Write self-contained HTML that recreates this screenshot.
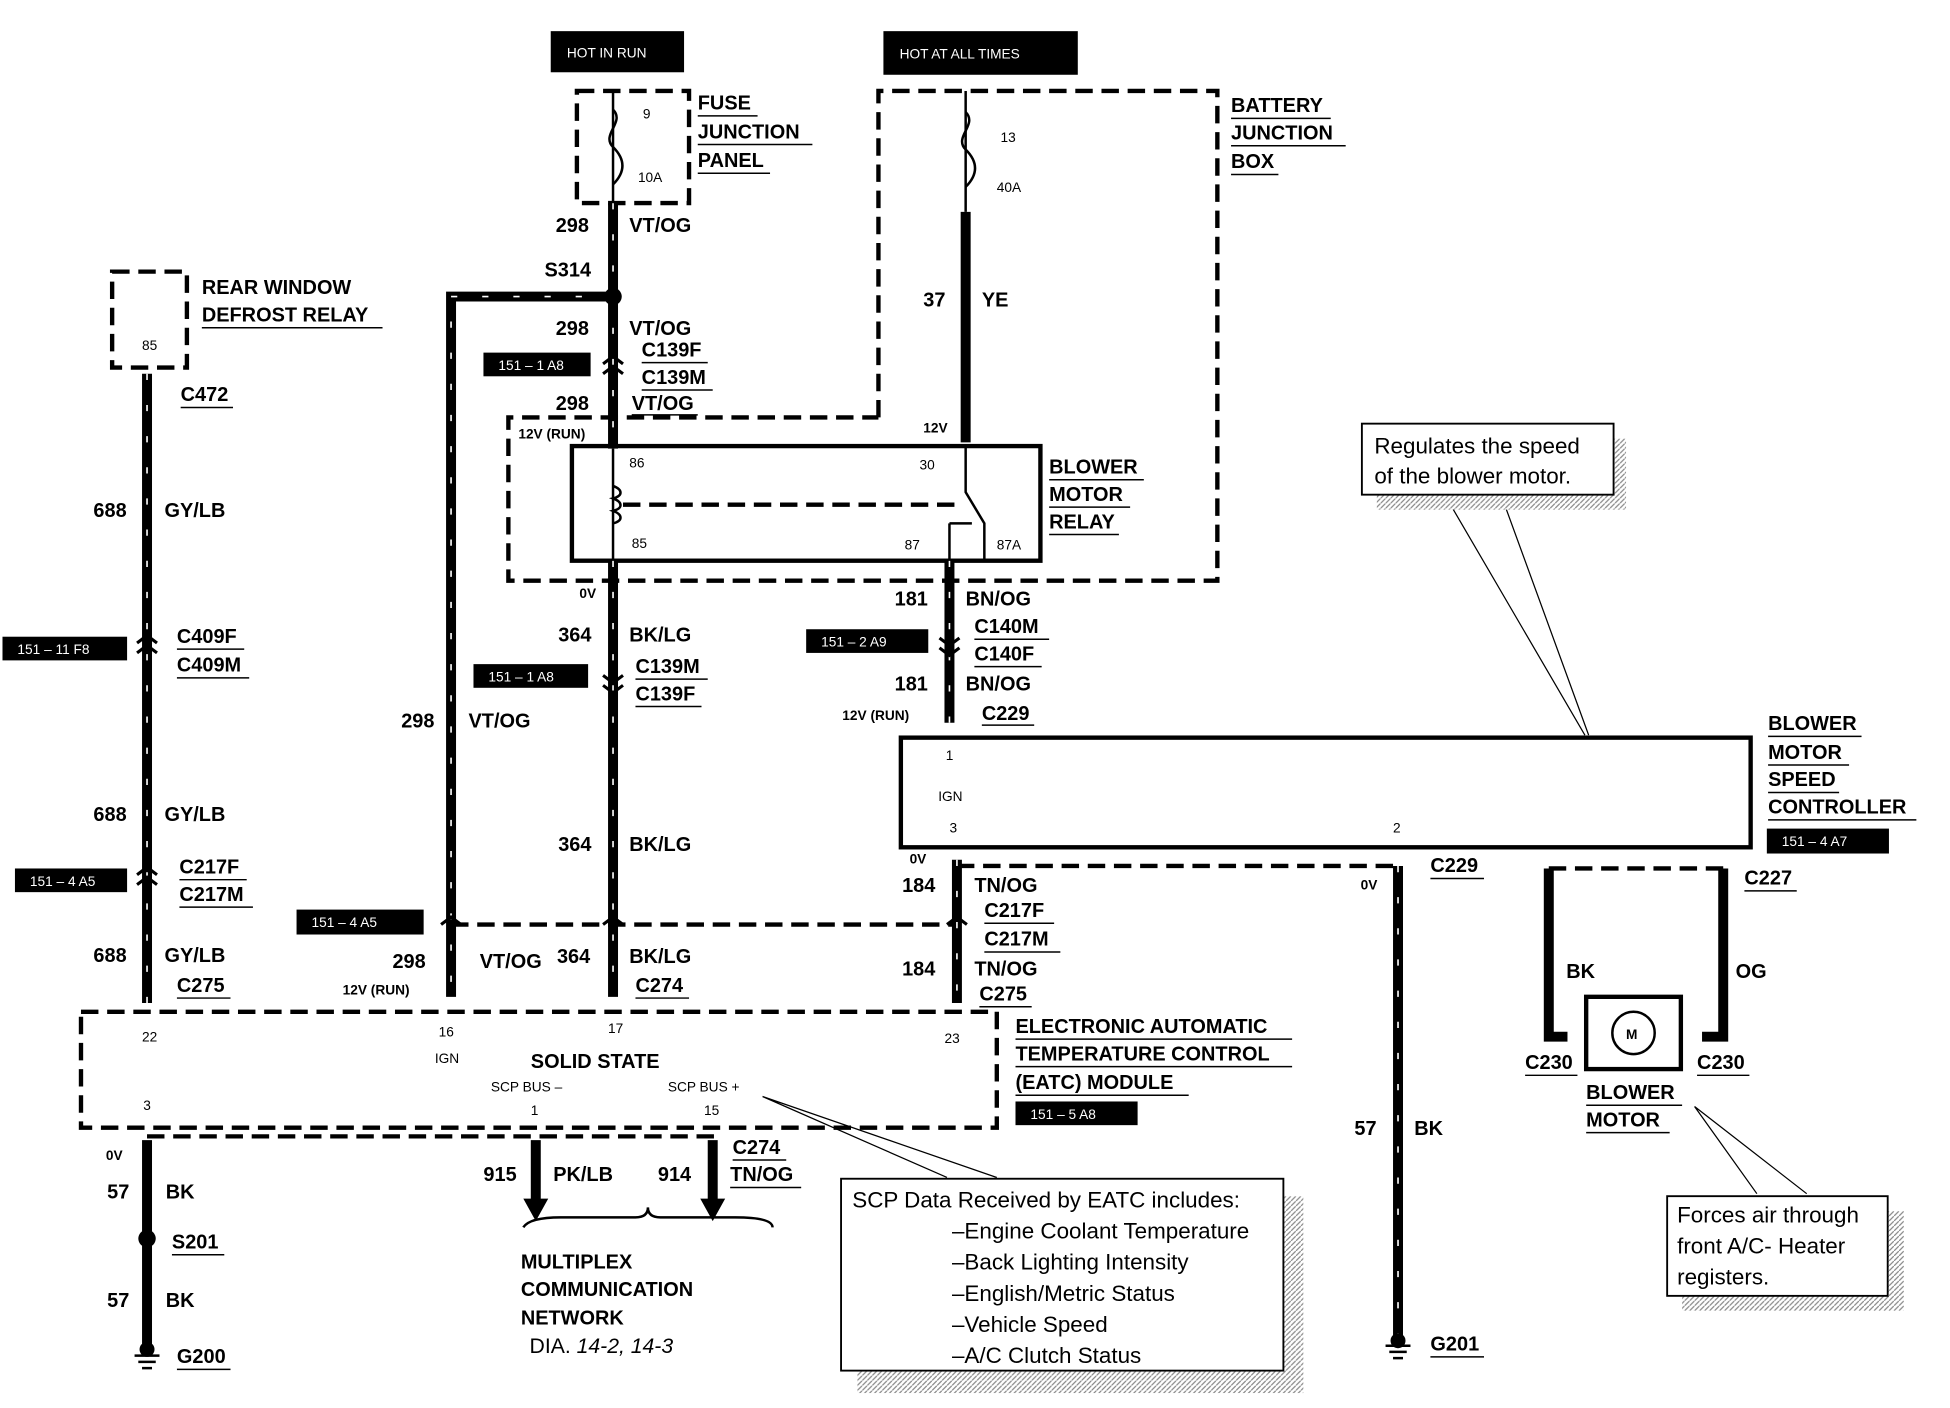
<!DOCTYPE html>
<html><head><meta charset="utf-8"><style>
html,body{margin:0;padding:0;background:#fff}
svg{display:block}
text{font-family:"Liberation Sans",Arial,sans-serif;fill:#000}
.b{font-weight:bold;font-size:16px}
.s{font-size:11px}
.w{fill:#fff;font-size:11px}
.n{font-size:17px}
</style></head><body>
<svg width="1950" height="1408" viewBox="0 0 1565 1130" preserveAspectRatio="none" xmlns="http://www.w3.org/2000/svg">
<defs>
<pattern id="h" width="4" height="4" patternUnits="userSpaceOnUse"><rect width="4" height="4" fill="#fff"/><path d="M0 4L4 0" stroke="#888" stroke-width="1"/></pattern>
</defs>
<g fill="none" stroke="#000">
<g stroke-width="3.5" stroke-dasharray="14 7">
<rect x="463" y="73" width="90" height="90"/>
<path d="M705 335V73H977V466H408V335H705"/>
<rect x="90" y="218" width="60" height="77"/>
<rect x="65" y="812" width="735" height="93"/>
<path d="M362 742H768"/>
<path d="M768 695H1122"/>
<path d="M1243 697H1385"/>
<path d="M118 912H580"/>
<path d="M500 405H770"/>
</g>
<rect x="459" y="358" width="376" height="92" stroke-width="3.5"/>
<rect x="723" y="592" width="682" height="88" stroke-width="3.5"/>
<rect x="1273" y="800" width="76" height="58" stroke-width="3.5"/>
<g stroke-width="8">
<path d="M492 163V360"/>
<path d="M492 450V800"/>
<path d="M775 170V355"/>
<path d="M762 450V580"/>
<path d="M768 690V805"/>
<path d="M1122 695V1072"/>
<path d="M1243 697V832H1258"/>
<path d="M1383 697V832H1366"/>
<path d="M118 300V805"/>
<path d="M118 915V1080"/>
<path d="M430 915V965"/>
<path d="M572 915V965"/>
<path d="M492 238H362V800"/>
</g>
<g stroke="#fff" stroke-width="1.3" stroke-dasharray="5 20">
<path d="M492 163V360"/><path d="M492 450V800"/><path d="M762 450V580"/><path d="M768 690V805"/><path d="M118 300V805"/><path d="M492 238H362V800"/><path d="M1122 695V1072"/>
</g>
<path d="M492 73V163M775 73V170" stroke-width="2"/>
<path d="M492 88c10 10-10 20 0 30s10 20 0 30" stroke-width="2"/>
<path d="M775 90c10 10-10 20 0 30s10 20 0 30" stroke-width="2"/>
<path d="M492 360V450M775 358V395L790 420V450M762 420V450M762 420H780" stroke-width="2"/>
<path d="M492 390c8 3 8 8 0 10c8 3 8 8 0 10c8 3 8 8 0 10" stroke-width="2"/>
<path d="M420 985q5 -8 30 -8h60q10 0 10 -8q0 8 10 8h60q30 0 30 8" stroke-width="2"/>
<path d="M1160 398L1272 590M1205 398L1275 590" stroke-width="1"/>
<path d="M612 880L760 945M612 880L800 945" stroke-width="1"/>
<path d="M1360 888L1410 958M1360 888L1450 958" stroke-width="1"/>
<path d="M108 1088h20M111 1093h14M114 1098h8M1112 1080h20M1115 1085h14M1118 1090h8" stroke-width="2"/>
</g>
<circle cx="492" cy="238" r="7"/>
<circle cx="118" cy="994" r="7"/>
<circle cx="118" cy="1083" r="6"/><circle cx="1122" cy="1076" r="6"/>
<path d="M420 962h20l-10 18zM562 962h20l-10 18z"/>
<circle cx="1311" cy="829" r="17" fill="none" stroke="#000" stroke-width="2"/>
<text x="1305" y="834" class="s" font-weight="bold">M</text>
<g fill="none" stroke="#000" stroke-width="2.5">
<path d="M484 292l8-6 8 6M484 300l8-6 8 6"/>
<path d="M484 542l8 6 8-6M484 550l8 6 8-6"/>
<path d="M754 512l8 6 8-6M754 520l8 6 8-6"/>
<path d="M110 516l8-6 8 6M110 524l8-6 8 6"/>
<path d="M110 702l8-6 8 6M110 710l8-6 8 6"/>
<path d="M354 742l8-6 8 6M484 742l8-6 8 6M760 742l8-6 8 6"/>
</g>
<rect x="688" y="960" width="358" height="158" fill="url(#h)"/>
<rect x="675" y="946" width="355" height="154" fill="#fff" stroke="#000" stroke-width="1.5"/>
<rect x="1105" y="352" width="200" height="57" fill="url(#h)"/>
<rect x="1093" y="340" width="202" height="57" fill="#fff" stroke="#000" stroke-width="1.5"/>
<rect x="1350" y="972" width="178" height="80" fill="url(#h)"/>
<rect x="1338" y="960" width="177" height="80" fill="#fff" stroke="#000" stroke-width="1.5"/>
<rect x="442" y="25" width="107" height="33"/><text x="455" y="46" class="w">HOT IN RUN</text>
<rect x="709" y="25" width="156" height="35"/><text x="722" y="47" class="w">HOT AT ALL TIMES</text>
<rect x="388" y="283" width="86" height="19"/><text x="400" y="297" class="w">151 – 1 A8</text>
<rect x="2" y="511" width="100" height="19"/><text x="14" y="525" class="w">151 – 11 F8</text>
<rect x="380" y="533" width="92" height="19"/><text x="392" y="547" class="w">151 – 1 A8</text>
<rect x="647" y="505" width="98" height="19"/><text x="659" y="519" class="w">151 – 2 A9</text>
<rect x="12" y="697" width="90" height="19"/><text x="24" y="711" class="w">151 – 4 A5</text>
<rect x="238" y="730" width="102" height="20"/><text x="250" y="744" class="w">151 – 4 A5</text>
<rect x="1418" y="665" width="98" height="20"/><text x="1430" y="679" class="w">151 – 4 A7</text>
<rect x="815" y="884" width="98" height="19"/><text x="827" y="898" class="w">151 – 5 A8</text>
<g class="b">
<text x="560" y="88">FUSE</text><text x="560" y="111">JUNCTION</text><text x="560" y="134">PANEL</text>
<text x="988" y="90">BATTERY</text><text x="988" y="112">JUNCTION</text><text x="988" y="135">BOX</text>
<text x="162" y="236">REAR  WINDOW</text><text x="162" y="258">DEFROST RELAY</text>
<text x="842" y="380">BLOWER</text><text x="842" y="402">MOTOR</text><text x="842" y="424">RELAY</text>
<text x="1419" y="586">BLOWER</text><text x="1419" y="609">MOTOR</text><text x="1419" y="631">SPEED</text><text x="1419" y="653">CONTROLLER</text>
<text x="815" y="829">ELECTRONIC AUTOMATIC</text><text x="815" y="851">TEMPERATURE CONTROL</text><text x="815" y="874">(EATC) MODULE</text>
<text x="1273" y="882">BLOWER</text><text x="1273" y="904">MOTOR</text>
<text x="418" y="1018">MULTIPLEX</text><text x="418" y="1040">COMMUNICATION</text><text x="418" y="1063">NETWORK</text>
<text x="446" y="186">298</text><text x="505" y="186">VT/OG</text>
<text x="437" y="222">S314</text>
<text x="446" y="269">298</text><text x="505" y="269">VT/OG</text>
<text x="515" y="286">C139F</text><text x="515" y="308">C139M</text>
<text x="446" y="329">298</text><text x="507" y="329">VT/OG</text>
<text x="741" y="246">37</text><text x="788" y="246">YE</text>
<text x="145" y="322">C472</text>
<text x="75" y="415">688</text><text x="132" y="415">GY/LB</text>
<text x="142" y="516">C409F</text><text x="142" y="539">C409M</text>
<text x="75" y="659">688</text><text x="132" y="659">GY/LB</text>
<text x="144" y="701">C217F</text><text x="144" y="723">C217M</text>
<text x="75" y="772">688</text><text x="132" y="772">GY/LB</text>
<text x="142" y="796">C275</text>
<text x="448" y="515">364</text><text x="505" y="515">BK/LG</text>
<text x="510" y="540">C139M</text><text x="510" y="562">C139F</text>
<text x="322" y="584">298</text><text x="376" y="584">VT/OG</text>
<text x="448" y="683">364</text><text x="505" y="683">BK/LG</text>
<text x="315" y="777">298</text><text x="385" y="777">VT/OG</text><text x="447" y="773">364</text><text x="505" y="773">BK/LG</text>
<text x="510" y="796">C274</text>
<text x="718" y="486">181</text><text x="775" y="486">BN/OG</text>
<text x="782" y="508">C140M</text><text x="782" y="530">C140F</text>
<text x="718" y="554">181</text><text x="775" y="554">BN/OG</text>
<text x="788" y="578">C229</text>
<text x="724" y="716">184</text><text x="782" y="716">TN/OG</text>
<text x="790" y="736">C217F</text><text x="790" y="759">C217M</text>
<text x="724" y="783">184</text><text x="782" y="783">TN/OG</text>
<text x="786" y="803">C275</text>
<text x="1148" y="700">C229</text><text x="1400" y="710">C227</text>
<text x="1257" y="785">BK</text><text x="1393" y="785">OG</text>
<text x="1224" y="858">C230</text><text x="1362" y="858">C230</text>
<text x="1087" y="911">57</text><text x="1135" y="911">BK</text>
<text x="1148" y="1084">G201</text>
<text x="86" y="962">57</text><text x="133" y="962">BK</text>
<text x="138" y="1002">S201</text>
<text x="86" y="1049">57</text><text x="133" y="1049">BK</text>
<text x="142" y="1094">G200</text>
<text x="388" y="948">915</text><text x="444" y="948">PK/LB</text>
<text x="528" y="948">914</text><text x="586" y="948">TN/OG</text>
<text x="588" y="926">C274</text>
<text x="426" y="857">SOLID STATE</text>
</g>
<text x="425" y="1086" class="n">DIA.  <tspan font-style="italic">14-2, 14-3</tspan></text>
<g fill="#000" stroke="#000" stroke-width="1.2">
<path d="M145 327H187M515 291H568M515 313H572M507 333H560M782 513H842M782 535H836M788 582H830M142 521H196M142 544H200M144 706H198M144 728H203M142 801H185M510 801H553M510 545H568M510 567H563M790 741H846M790 764H851M786 808H828M1148 705H1191M1400 715H1442M1224 863H1266M1362 863H1404M1148 1089H1191M138 1007H180M588 931H631M586 953H643M142 1099H185M560 93H608M560 116H652M560 139H618M988 95H1068M988 117H1080M988 140H1026M162 263H307M842 385H918M842 407H907M842 429H898M1419 591H1494M1419 614H1484M1419 636H1476M1419 658H1538M815 834H1037M815 856H1037M815 879H954M1273 887H1350M1273 909H1340"/>
</g>
<g class="s">
<text x="516" y="95">9</text><text x="512" y="146">10A</text>
<text x="803" y="114">13</text><text x="800" y="154">40A</text>
<text x="114" y="281">85</text>
<text x="416" y="352" font-weight="bold">12V (RUN)</text>
<text x="741" y="347" font-weight="bold">12V</text>
<text x="505" y="375">86</text><text x="738" y="377">30</text>
<text x="507" y="440">85</text><text x="726" y="441">87</text><text x="800" y="441">87A</text>
<text x="465" y="480" font-weight="bold">0V</text>
<text x="676" y="578" font-weight="bold">12V (RUN)</text>
<text x="759" y="610">1</text><text x="753" y="643">IGN</text><text x="762" y="668">3</text><text x="1118" y="668">2</text>
<text x="730" y="693" font-weight="bold">0V</text><text x="1092" y="714" font-weight="bold">0V</text>
<text x="275" y="798" font-weight="bold">12V (RUN)</text>
<text x="114" y="836">22</text><text x="352" y="832">16</text><text x="349" y="853">IGN</text><text x="488" y="829">17</text><text x="758" y="837">23</text>
<text x="115" y="891">3</text><text x="394" y="876">SCP BUS –</text><text x="536" y="876">SCP BUS +</text>
<text x="426" y="895">1</text><text x="565" y="895">15</text>
<text x="85" y="931" font-weight="bold">0V</text>
</g>
<g font-size="18">
<text x="1103" y="364">Regulates the speed</text><text x="1103" y="388">of the blower motor.</text>
<text x="1346" y="981">Forces air through</text><text x="1346" y="1006">front  A/C- Heater</text><text x="1346" y="1031">registers.</text>
<text x="684" y="969">SCP Data Received by EATC includes:</text>
<text x="764" y="994">–Engine Coolant Temperature</text>
<text x="764" y="1019">–Back Lighting Intensity</text>
<text x="764" y="1044">–English/Metric Status</text>
<text x="764" y="1069">–Vehicle Speed</text>
<text x="764" y="1094">–A/C Clutch Status</text>
</g>
</svg>
</body></html>
